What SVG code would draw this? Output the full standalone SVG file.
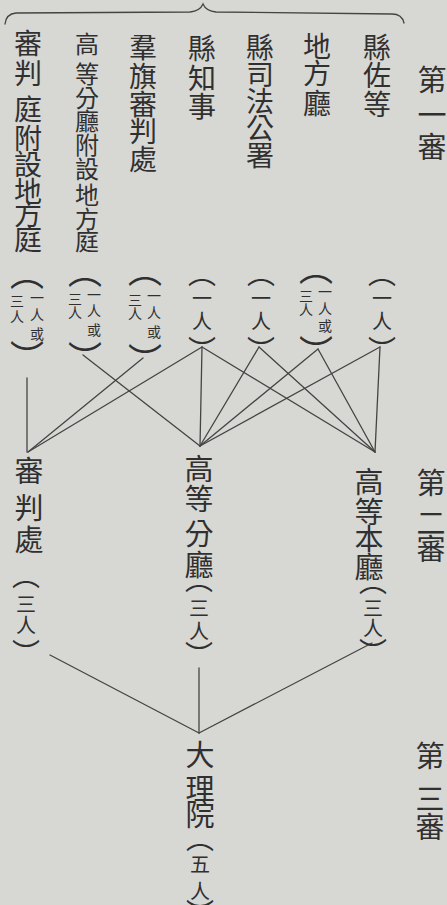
<svg xmlns="http://www.w3.org/2000/svg" width="447" height="905" viewBox="0 0 447 905">
<style>
.t{font-family:"Noto Sans CJK TC","Noto Sans CJK SC",sans-serif;fill:#303030;text-anchor:middle;dominant-baseline:central}
.a{font-size:28px}
.b{font-size:24px}
.h{font-size:29px}
.p{font-size:20px}
.s{font-size:14px}
.pw{font-size:34px}
.ps{font-size:28px}
.c line,.c path{stroke:#444;stroke-width:1.3;fill:none;stroke-linecap:round}
</style>
<rect width="447" height="905" fill="#d7d7d4"/>
<g class="c" id="connectors">
<path d="M5,24 Q6,14 16,13 L190,12 Q200,11 203,4 Q206,11 216,12 L392,14 Q402,14 404,23" stroke-width="1.6"/>
<line x1="380" y1="347" x2="375" y2="452"/>
<line x1="380" y1="347" x2="200" y2="446"/>
<line x1="318" y1="349" x2="375" y2="452"/>
<line x1="318" y1="349" x2="200" y2="446"/>
<line x1="259" y1="347" x2="375" y2="452"/>
<line x1="259" y1="347" x2="200" y2="446"/>
<line x1="202" y1="347" x2="375" y2="452"/>
<line x1="202" y1="347" x2="200" y2="446"/>
<line x1="202" y1="347" x2="28" y2="452"/>
<line x1="143" y1="358" x2="28" y2="452"/>
<line x1="83" y1="355" x2="200" y2="446"/>
<line x1="27" y1="378" x2="27" y2="452"/>
<line x1="50" y1="655" x2="199" y2="733"/>
<line x1="372" y1="643" x2="199" y2="733"/>
<line x1="199" y1="668" x2="199" y2="733"/>
</g>
<g id="stage1">
<text class="t h"><tspan x="432" y="78">第</tspan><tspan x="432" y="113">一</tspan><tspan x="432" y="145">審</tspan></text>
</g>
<g id="stage2">
<text class="t h"><tspan x="431" y="481">第</tspan><tspan x="431" y="521">二</tspan><tspan x="431" y="547">審</tspan></text>
</g>
<g id="stage3">
<text class="t h"><tspan x="430" y="754">第</tspan><tspan x="430" y="797">三</tspan><tspan x="430" y="825">審</tspan></text>
</g>
<g id="n1">
<text class="t a"><tspan x="377" y="46">縣</tspan><tspan x="377" y="74">佐</tspan><tspan x="377" y="103">等</tspan></text>
<text class="t ps"><tspan x="382" y="272">︵</tspan><tspan x="382" y="349">︶</tspan></text>
<text class="t p"><tspan x="382" y="297">一</tspan><tspan x="382" y="320">人</tspan></text>
</g>
<g id="n2">
<text class="t a"><tspan x="317" y="45">地</tspan><tspan x="317" y="72">方</tspan><tspan x="317" y="102">廳</tspan></text>
<text class="t pw"><tspan x="316" y="266">︵</tspan><tspan x="316" y="350">︶</tspan></text>
<text class="t s"><tspan x="325" y="291">一</tspan><tspan x="325" y="308">人</tspan><tspan x="325" y="325">或</tspan><tspan x="306" y="295">三</tspan><tspan x="306" y="309">人</tspan></text>
</g>
<g id="n3">
<text class="t a"><tspan x="260" y="46">縣</tspan><tspan x="260" y="73">司</tspan><tspan x="260" y="100">法</tspan><tspan x="260" y="127">公</tspan><tspan x="260" y="154">署</tspan></text>
<text class="t ps"><tspan x="261" y="272">︵</tspan><tspan x="261" y="349">︶</tspan></text>
<text class="t p"><tspan x="261" y="297">一</tspan><tspan x="261" y="320">人</tspan></text>
</g>
<g id="n4">
<text class="t a"><tspan x="202" y="47">縣</tspan><tspan x="202" y="77">知</tspan><tspan x="202" y="105">事</tspan></text>
<text class="t ps"><tspan x="202" y="272">︵</tspan><tspan x="202" y="349">︶</tspan></text>
<text class="t p"><tspan x="202" y="297">一</tspan><tspan x="202" y="320">人</tspan></text>
</g>
<g id="n5">
<text class="t a"><tspan x="143" y="46">羣</tspan><tspan x="143" y="75">旗</tspan><tspan x="143" y="103">審</tspan><tspan x="143" y="130">判</tspan><tspan x="143" y="158">處</tspan></text>
<text class="t pw"><tspan x="145" y="268">︵</tspan><tspan x="145" y="358">︶</tspan></text>
<text class="t s"><tspan x="154" y="295">一</tspan><tspan x="154" y="312">人</tspan><tspan x="154" y="331">或</tspan><tspan x="135" y="299">三</tspan><tspan x="135" y="313">人</tspan></text>
</g>
<g id="n6">
<text class="t b"><tspan x="87" y="42">高</tspan><tspan x="87" y="72">等</tspan><tspan x="87" y="96">分</tspan><tspan x="87" y="119">廳</tspan><tspan x="87" y="143">附</tspan><tspan x="87" y="167">設</tspan><tspan x="87" y="193">地</tspan><tspan x="87" y="217">方</tspan><tspan x="87" y="239">庭</tspan></text>
<text class="t pw"><tspan x="85" y="269">︵</tspan><tspan x="85" y="356">︶</tspan></text>
<text class="t s"><tspan x="94" y="294">一</tspan><tspan x="94" y="310">人</tspan><tspan x="94" y="329">或</tspan><tspan x="75" y="298">三</tspan><tspan x="75" y="312">人</tspan></text>
</g>
<g id="n7">
<text class="t a"><tspan x="28" y="42">審</tspan><tspan x="28" y="72">判</tspan><tspan x="28" y="108">庭</tspan><tspan x="28" y="137">附</tspan><tspan x="28" y="163">設</tspan><tspan x="28" y="190">地</tspan><tspan x="28" y="213">方</tspan><tspan x="28" y="238">庭</tspan></text>
<text class="t pw"><tspan x="27" y="271">︵</tspan><tspan x="27" y="355">︶</tspan></text>
<text class="t s"><tspan x="37" y="297">一</tspan><tspan x="37" y="314">人</tspan><tspan x="37" y="333">或</tspan><tspan x="17" y="300">三</tspan><tspan x="17" y="316">人</tspan></text>
</g>
<g id="n8">
<text class="t h"><tspan x="29" y="469">審</tspan><tspan x="29" y="506">判</tspan><tspan x="29" y="538">處</tspan></text>
<text class="t ps"><tspan x="26" y="574">︵</tspan><tspan x="26" y="652">︶</tspan></text>
<text class="t p"><tspan x="26" y="603">三</tspan><tspan x="26" y="624">人</tspan></text>
</g>
<g id="n9">
<text class="t h"><tspan x="199" y="467">高</tspan><tspan x="199" y="497">等</tspan><tspan x="199" y="532">分</tspan><tspan x="199" y="563">廳</tspan></text>
<text class="t ps"><tspan x="199" y="578">︵</tspan><tspan x="199" y="654">︶</tspan></text>
<text class="t p"><tspan x="199" y="607">三</tspan><tspan x="199" y="630">人</tspan></text>
</g>
<g id="n10">
<text class="t h"><tspan x="369" y="480">高</tspan><tspan x="369" y="510">等</tspan><tspan x="369" y="537">本</tspan><tspan x="369" y="565">廳</tspan></text>
<text class="t ps"><tspan x="373" y="580">︵</tspan><tspan x="373" y="651">︶</tspan></text>
<text class="t p"><tspan x="373" y="607">三</tspan><tspan x="373" y="627">人</tspan></text>
</g>
<g id="n11">
<text class="t h"><tspan x="200" y="753">大</tspan><tspan x="200" y="787">理</tspan><tspan x="200" y="813">院</tspan></text>
<text class="t ps"><tspan x="200" y="837">︵</tspan><tspan x="200" y="912">︶</tspan></text>
<text class="t p"><tspan x="200" y="863">五</tspan><tspan x="200" y="890">人</tspan></text>
</g>
</svg>
